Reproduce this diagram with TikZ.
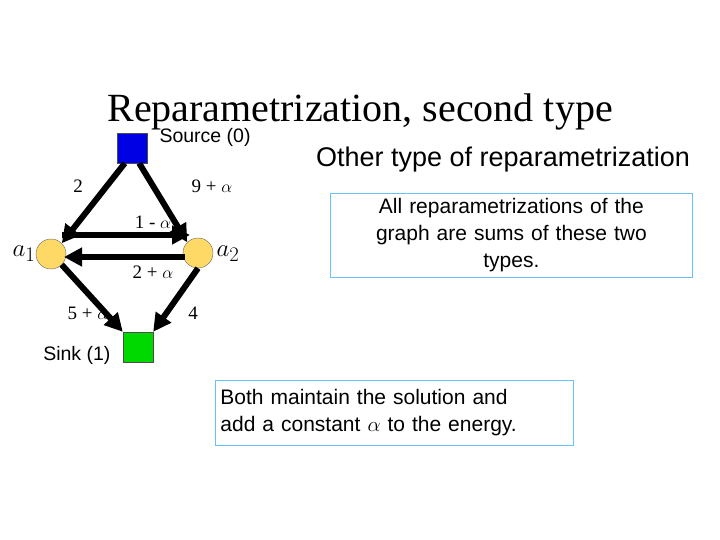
\documentclass[tikz,border=0pt]{standalone}
\usepackage{fontspec}
\setsansfont{Liberation Sans}
\setmainfont{Liberation Serif}
\usetikzlibrary{arrows.meta}
\begin{document}
\begin{tikzpicture}[x=1pt,y=-1pt,
  edge/.style={line width=6pt,-{Triangle[length=18pt,width=18pt]}},
  vert/.style={circle,draw=black!60,fill=orange!50!yellow!60,minimum size=30pt,inner sep=0pt},
  lab/.style={font=\fontsize{19}{21}\selectfont\rmfamily},
  box/.style={draw=blue!40!cyan!60,line width=0.8pt,align=left,font=\sffamily\fontsize{21}{27}\selectfont,inner sep=5pt,anchor=north west}]
\useasboundingbox (0,0) rectangle (720,540);
\node[font=\fontsize{40}{44}\selectfont\rmfamily] (title) at (360,112) {Reparametrization, second type};
\node[draw=black!70,fill=blue!90!black,minimum size=30pt,inner sep=0pt] (src) at (132,148) {};
\node[draw=black!70,fill=green!85!black,minimum size=30pt,inner sep=0pt] (snk) at (138,347) {};
\node[font=\sffamily\fontsize{19.5}{22}\selectfont,anchor=west] (srcl) at (156,137) {Source (0)};
\node[font=\sffamily\fontsize{19.5}{22}\selectfont,anchor=east] (snkl) at (114,355) {Sink (1)};
\node[vert] (a1) at (51,254) {};
\node[vert] (a2) at (198,253) {};
\node[font=\fontsize{28}{30}\selectfont,anchor=east] (a1l) at (39,254) {$a_1$};
\node[font=\fontsize{28}{30}\selectfont,anchor=west] (a2l) at (213,254) {$a_2$};
\draw[edge] (src.south west) ++(8,0) coordinate (s1) -- (a1.north east);
\draw[edge] (src.south east) ++(-8,0) coordinate (s2) -- (a2.north west);
\draw[edge] (62,235) coordinate (p1) -- (190,235) coordinate (p2);
\draw[edge] (185,257) coordinate (q1) -- (64,257) coordinate (q2);
\draw[edge] (a1.south east) -- (snk.north west);
\draw[edge] (a2.south) -- (snk.north east);
\node[lab] (l1) at (78,186) {2};
\node[lab] (l2) at (212,186) {9 + $\alpha$};
\node[lab] (l3) at (153,222) {1 - $\alpha$};
\node[lab] (l4) at (153,272) {2 + $\alpha$};
\node[lab] (l5) at (88,313) {5 + $\alpha$};
\node[lab] (l6) at (193,313) {4};
\node[font=\sffamily\fontsize{27}{30}\selectfont] (other) at (503,160) {Other type of reparametrization};
\node[box,text width=352pt,align=center] (b1) at (330,193) {All reparametrizations of the\\graph are sums of these two\\types.};
\node[box,text width=348pt,minimum height=65pt] (b2) at (215,380) {Both maintain the solution and\\add a constant $\alpha$ to the energy.};
\end{tikzpicture}
\end{document}
